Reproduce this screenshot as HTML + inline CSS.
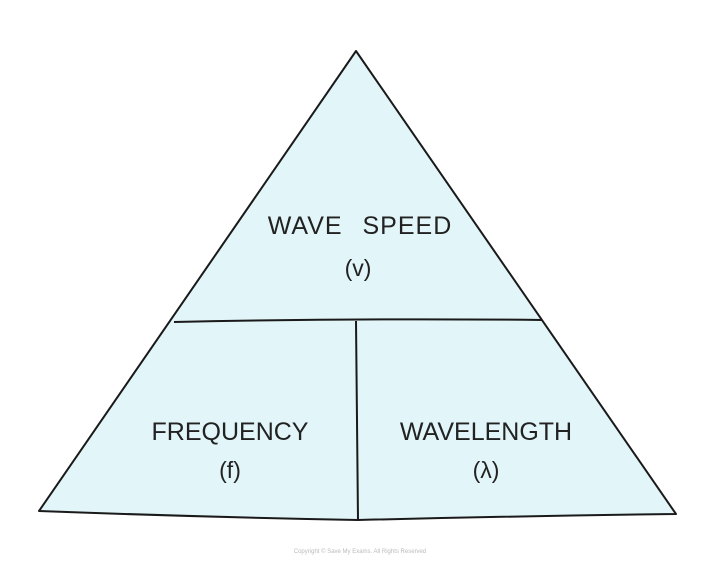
<!DOCTYPE html>
<html><head><style>
body{margin:0;background:#fff;}
svg{display:block;}
text{font-family:"Liberation Sans","DejaVu Sans",sans-serif;fill:#222;}
</style></head><body>
<svg width="720" height="570" viewBox="0 0 720 570">
<path d="M356,51 L676,514 Q520,516 358,520 Q200,517 39,511 Z" fill="#e2f5f8" stroke="#1a1a1a" stroke-width="2" stroke-linejoin="round"/>
<path d="M174,322 Q360,318 542,320" fill="none" stroke="#1a1a1a" stroke-width="2"/>
<path d="M356,321 L358,520" fill="none" stroke="#1a1a1a" stroke-width="2"/>
<text x="360" y="234" font-size="25" text-anchor="middle" letter-spacing="1" word-spacing="12">WAVE SPEED</text>
<text x="358" y="276" font-size="23" text-anchor="middle">(v)</text>
<text x="230" y="440" font-size="25" text-anchor="middle">FREQUENCY</text>
<text x="230" y="478" font-size="23" text-anchor="middle">(f)</text>
<text x="486" y="440" font-size="25" text-anchor="middle">WAVELENGTH</text>
<text x="486" y="478" font-size="23" text-anchor="middle">(λ)</text>
<text x="360" y="553" font-size="6" text-anchor="middle" style="fill:#bbb">Copyright © Save My Exams. All Rights Reserved</text>
</svg>
</body></html>
